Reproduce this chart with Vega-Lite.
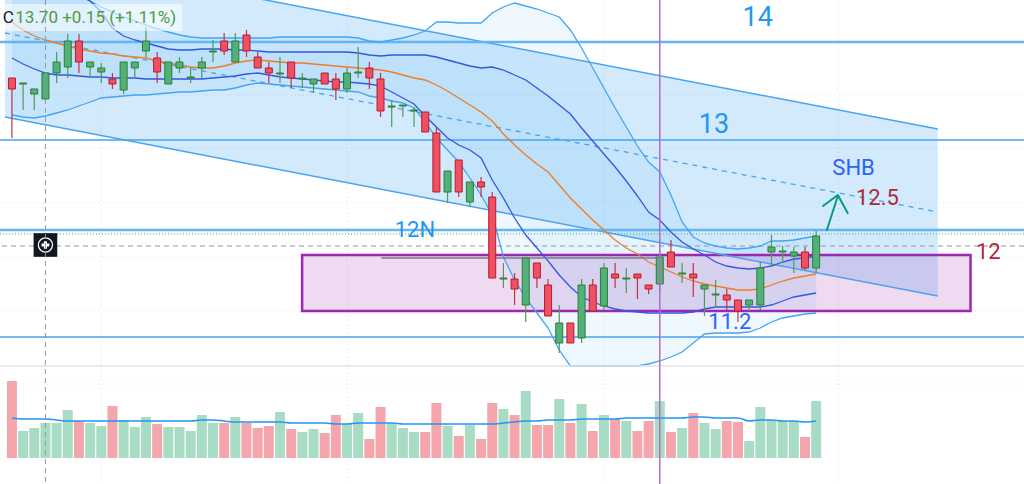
{
  "$schema": "https://vega.github.io/schema/vega-lite/v6.json",
  "width": 1024,
  "height": 484,
  "padding": 0,
  "autosize": {"type": "none"},
  "background": "#ffffff",
  "config": {"view": {"stroke": null}, "font": "Roboto"},
  "datasets": {
    "candles": [
      {"i":1,"o":13.65,"h":13.65,"l":13.05,"c":13.54,"v":7.7,"vm":4.0,"ma":14.21,"u1":14.93,"l1":13.85,"u2":14.88,"l2":13.28},
      {"i":2,"o":13.59,"h":13.60,"l":13.33,"c":13.60,"v":2.7,"vm":3.9,"ma":14.13,"u1":14.85,"l1":13.79,"u2":14.81,"l2":13.26},
      {"i":3,"o":13.49,"h":13.54,"l":13.33,"c":13.54,"v":3.0,"vm":3.9,"ma":14.07,"u1":14.77,"l1":13.74,"u2":14.73,"l2":13.25},
      {"i":4,"o":13.44,"h":13.70,"l":13.43,"c":13.70,"v":3.5,"vm":3.9,"ma":14.03,"u1":14.69,"l1":13.70,"u2":14.66,"l2":13.27},
      {"i":5,"o":13.70,"h":13.91,"l":13.60,"c":13.81,"v":3.5,"vm":3.8,"ma":14.00,"u1":14.61,"l1":13.68,"u2":14.59,"l2":13.30},
      {"i":6,"o":13.76,"h":14.09,"l":13.65,"c":14.02,"v":4.8,"vm":3.7,"ma":13.97,"u1":14.54,"l1":13.68,"u2":14.53,"l2":13.33},
      {"i":7,"o":14.02,"h":14.09,"l":13.70,"c":13.81,"v":3.7,"vm":3.7,"ma":13.94,"u1":14.48,"l1":13.67,"u2":14.47,"l2":13.37},
      {"i":8,"o":13.76,"h":13.81,"l":13.65,"c":13.81,"v":3.5,"vm":3.7,"ma":13.92,"u1":14.42,"l1":13.66,"u2":14.42,"l2":13.41},
      {"i":9,"o":13.71,"h":13.80,"l":13.60,"c":13.75,"v":3.2,"vm":3.7,"ma":13.90,"u1":14.31,"l1":13.66,"u2":14.36,"l2":13.45},
      {"i":10,"o":13.64,"h":13.70,"l":13.54,"c":13.59,"v":5.2,"vm":3.7,"ma":13.89,"u1":14.15,"l1":13.65,"u2":14.31,"l2":13.46},
      {"i":11,"o":13.53,"h":13.81,"l":13.49,"c":13.81,"v":3.8,"vm":3.7,"ma":13.87,"u1":14.07,"l1":13.65,"u2":14.26,"l2":13.47},
      {"i":12,"o":13.75,"h":13.81,"l":13.65,"c":13.81,"v":3.1,"vm":3.7,"ma":13.86,"u1":14.03,"l1":13.65,"u2":14.22,"l2":13.48},
      {"i":13,"o":13.92,"h":14.16,"l":13.86,"c":14.02,"v":4.1,"vm":3.7,"ma":13.85,"u1":14.00,"l1":13.64,"u2":14.18,"l2":13.48},
      {"i":14,"o":13.85,"h":13.91,"l":13.60,"c":13.71,"v":3.4,"vm":3.7,"ma":13.82,"u1":13.97,"l1":13.64,"u2":14.14,"l2":13.49},
      {"i":15,"o":13.59,"h":13.81,"l":13.59,"c":13.81,"v":3.1,"vm":3.7,"ma":13.80,"u1":13.94,"l1":13.64,"u2":14.11,"l2":13.50},
      {"i":16,"o":13.75,"h":13.86,"l":13.70,"c":13.81,"v":3.1,"vm":3.7,"ma":13.78,"u1":13.93,"l1":13.64,"u2":14.08,"l2":13.51},
      {"i":17,"o":13.65,"h":13.76,"l":13.60,"c":13.66,"v":2.7,"vm":3.7,"ma":13.76,"u1":13.93,"l1":13.64,"u2":14.06,"l2":13.51},
      {"i":18,"o":13.75,"h":13.86,"l":13.65,"c":13.81,"v":4.3,"vm":3.8,"ma":13.75,"u1":13.94,"l1":13.64,"u2":14.05,"l2":13.52},
      {"i":19,"o":13.91,"h":14.03,"l":13.81,"c":13.92,"v":3.5,"vm":3.8,"ma":13.75,"u1":13.94,"l1":13.65,"u2":14.05,"l2":13.53},
      {"i":20,"o":14.02,"h":14.10,"l":13.88,"c":13.92,"v":3.5,"vm":3.7,"ma":13.77,"u1":13.94,"l1":13.66,"u2":14.05,"l2":13.53},
      {"i":21,"o":13.81,"h":14.10,"l":13.81,"c":14.02,"v":4.1,"vm":3.6,"ma":13.80,"u1":13.93,"l1":13.67,"u2":14.05,"l2":13.55},
      {"i":22,"o":14.08,"h":14.13,"l":13.86,"c":13.92,"v":3.5,"vm":3.6,"ma":13.82,"u1":13.93,"l1":13.69,"u2":14.05,"l2":13.58},
      {"i":23,"o":13.86,"h":13.91,"l":13.75,"c":13.75,"v":3.0,"vm":3.6,"ma":13.83,"u1":13.92,"l1":13.70,"u2":14.05,"l2":13.60},
      {"i":24,"o":13.75,"h":13.81,"l":13.60,"c":13.70,"v":3.2,"vm":3.6,"ma":13.82,"u1":13.91,"l1":13.68,"u2":14.05,"l2":13.59},
      {"i":25,"o":13.69,"h":13.86,"l":13.60,"c":13.70,"v":4.6,"vm":3.6,"ma":13.81,"u1":13.91,"l1":13.66,"u2":14.06,"l2":13.58},
      {"i":26,"o":13.81,"h":13.81,"l":13.55,"c":13.65,"v":2.9,"vm":3.5,"ma":13.80,"u1":13.91,"l1":13.65,"u2":14.06,"l2":13.57},
      {"i":27,"o":13.64,"h":13.70,"l":13.55,"c":13.65,"v":2.6,"vm":3.5,"ma":13.80,"u1":13.91,"l1":13.64,"u2":14.06,"l2":13.56},
      {"i":28,"o":13.59,"h":13.64,"l":13.50,"c":13.64,"v":2.9,"vm":3.5,"ma":13.79,"u1":13.91,"l1":13.63,"u2":14.06,"l2":13.55},
      {"i":29,"o":13.70,"h":13.70,"l":13.59,"c":13.59,"v":2.5,"vm":3.5,"ma":13.78,"u1":13.91,"l1":13.62,"u2":14.06,"l2":13.54},
      {"i":30,"o":13.64,"h":13.70,"l":13.43,"c":13.54,"v":4.3,"vm":3.4,"ma":13.77,"u1":13.91,"l1":13.61,"u2":14.06,"l2":13.53},
      {"i":31,"o":13.54,"h":13.75,"l":13.50,"c":13.70,"v":3.4,"vm":3.4,"ma":13.76,"u1":13.91,"l1":13.61,"u2":14.06,"l2":13.52},
      {"i":32,"o":13.70,"h":13.96,"l":13.65,"c":13.71,"v":4.5,"vm":3.5,"ma":13.75,"u1":13.90,"l1":13.60,"u2":14.05,"l2":13.51},
      {"i":33,"o":13.75,"h":13.81,"l":13.54,"c":13.65,"v":1.9,"vm":3.5,"ma":13.74,"u1":13.88,"l1":13.59,"u2":14.02,"l2":13.47},
      {"i":34,"o":13.64,"h":13.70,"l":13.26,"c":13.32,"v":5.1,"vm":3.5,"ma":13.73,"u1":13.87,"l1":13.57,"u2":14.01,"l2":13.45},
      {"i":35,"o":13.36,"h":13.43,"l":13.16,"c":13.37,"v":3.5,"vm":3.5,"ma":13.71,"u1":13.88,"l1":13.51,"u2":14.03,"l2":13.42},
      {"i":36,"o":13.37,"h":13.38,"l":13.26,"c":13.38,"v":3.0,"vm":3.4,"ma":13.68,"u1":13.88,"l1":13.45,"u2":14.05,"l2":13.40},
      {"i":37,"o":13.32,"h":13.36,"l":13.16,"c":13.33,"v":2.6,"vm":3.4,"ma":13.65,"u1":13.88,"l1":13.39,"u2":14.08,"l2":13.35},
      {"i":38,"o":13.31,"h":13.31,"l":13.11,"c":13.11,"v":2.6,"vm":3.4,"ma":13.63,"u1":13.88,"l1":13.27,"u2":14.12,"l2":13.21},
      {"i":39,"o":13.10,"h":13.16,"l":12.51,"c":12.51,"v":5.5,"vm":3.4,"ma":13.58,"u1":13.86,"l1":13.16,"u2":14.21,"l2":13.05},
      {"i":40,"o":12.51,"h":12.72,"l":12.40,"c":12.72,"v":3.2,"vm":3.4,"ma":13.52,"u1":13.83,"l1":13.05,"u2":14.21,"l2":12.93},
      {"i":41,"o":12.83,"h":12.83,"l":12.46,"c":12.51,"v":2.2,"vm":3.4,"ma":13.45,"u1":13.80,"l1":12.98,"u2":14.20,"l2":12.81},
      {"i":42,"o":12.41,"h":12.61,"l":12.36,"c":12.61,"v":3.3,"vm":3.4,"ma":13.38,"u1":13.77,"l1":12.93,"u2":14.20,"l2":12.65},
      {"i":43,"o":12.61,"h":12.66,"l":12.46,"c":12.56,"v":1.9,"vm":3.4,"ma":13.31,"u1":13.75,"l1":12.85,"u2":14.20,"l2":12.48},
      {"i":44,"o":12.46,"h":12.51,"l":11.65,"c":11.65,"v":5.5,"vm":3.4,"ma":13.22,"u1":13.76,"l1":12.63,"u2":14.30,"l2":12.28},
      {"i":45,"o":11.64,"h":11.80,"l":11.55,"c":11.65,"v":4.9,"vm":3.5,"ma":13.09,"u1":13.73,"l1":12.45,"u2":14.36,"l2":11.86},
      {"i":46,"o":11.64,"h":11.70,"l":11.38,"c":11.54,"v":4.3,"vm":3.6,"ma":12.98,"u1":13.68,"l1":12.25,"u2":14.40,"l2":11.63},
      {"i":47,"o":11.38,"h":11.85,"l":11.21,"c":11.85,"v":6.7,"vm":3.7,"ma":12.88,"u1":13.63,"l1":12.08,"u2":14.37,"l2":11.45},
      {"i":48,"o":11.80,"h":11.80,"l":11.55,"c":11.65,"v":3.3,"vm":3.7,"ma":12.79,"u1":13.55,"l1":11.95,"u2":14.34,"l2":11.30},
      {"i":49,"o":11.58,"h":11.64,"l":11.27,"c":11.27,"v":3.3,"vm":3.8,"ma":12.71,"u1":13.47,"l1":11.82,"u2":14.30,"l2":11.15},
      {"i":50,"o":11.00,"h":11.38,"l":10.90,"c":11.20,"v":5.9,"vm":3.8,"ma":12.58,"u1":13.38,"l1":11.68,"u2":14.26,"l2":10.93},
      {"i":51,"o":11.20,"h":11.20,"l":11.00,"c":11.00,"v":3.5,"vm":3.8,"ma":12.45,"u1":13.29,"l1":11.56,"u2":14.13,"l2":10.77},
      {"i":52,"o":11.05,"h":11.64,"l":11.00,"c":11.58,"v":5.4,"vm":3.9,"ma":12.34,"u1":13.15,"l1":11.46,"u2":13.95,"l2":10.77},
      {"i":53,"o":11.58,"h":11.64,"l":11.32,"c":11.32,"v":2.7,"vm":3.9,"ma":12.23,"u1":13.02,"l1":11.41,"u2":13.75,"l2":10.77},
      {"i":54,"o":11.37,"h":11.80,"l":11.33,"c":11.75,"v":4.3,"vm":3.9,"ma":12.13,"u1":12.89,"l1":11.37,"u2":13.55,"l2":10.77},
      {"i":55,"o":11.69,"h":11.80,"l":11.55,"c":11.65,"v":3.9,"vm":3.9,"ma":12.03,"u1":12.76,"l1":11.34,"u2":13.35,"l2":10.77},
      {"i":56,"o":11.64,"h":11.75,"l":11.50,"c":11.65,"v":3.7,"vm":4.0,"ma":11.95,"u1":12.62,"l1":11.32,"u2":13.16,"l2":10.77},
      {"i":57,"o":11.69,"h":11.69,"l":11.44,"c":11.65,"v":2.7,"vm":4.0,"ma":11.89,"u1":12.47,"l1":11.31,"u2":12.97,"l2":10.77},
      {"i":58,"o":11.58,"h":11.58,"l":11.49,"c":11.54,"v":3.7,"vm":4.0,"ma":11.81,"u1":12.31,"l1":11.30,"u2":12.81,"l2":10.79},
      {"i":59,"o":11.59,"h":11.93,"l":11.50,"c":11.86,"v":5.7,"vm":4.0,"ma":11.76,"u1":12.23,"l1":11.30,"u2":12.71,"l2":10.82},
      {"i":60,"o":11.91,"h":12.03,"l":11.76,"c":11.76,"v":2.6,"vm":4.0,"ma":11.71,"u1":12.11,"l1":11.30,"u2":12.48,"l2":10.86},
      {"i":61,"o":11.69,"h":11.80,"l":11.60,"c":11.70,"v":3.0,"vm":4.0,"ma":11.66,"u1":12.01,"l1":11.30,"u2":12.21,"l2":10.91},
      {"i":62,"o":11.69,"h":11.80,"l":11.46,"c":11.65,"v":4.5,"vm":4.1,"ma":11.62,"u1":11.94,"l1":11.31,"u2":12.06,"l2":11.00},
      {"i":63,"o":11.54,"h":11.58,"l":11.27,"c":11.58,"v":3.5,"vm":4.1,"ma":11.59,"u1":11.88,"l1":11.34,"u2":12.00,"l2":11.09},
      {"i":64,"o":11.48,"h":11.63,"l":11.37,"c":11.49,"v":2.9,"vm":4.0,"ma":11.57,"u1":11.81,"l1":11.36,"u2":11.97,"l2":11.10},
      {"i":65,"o":11.48,"h":11.54,"l":11.33,"c":11.43,"v":3.7,"vm":4.0,"ma":11.55,"u1":11.77,"l1":11.36,"u2":11.95,"l2":11.10},
      {"i":66,"o":11.43,"h":11.43,"l":11.21,"c":11.32,"v":3.6,"vm":4.0,"ma":11.53,"u1":11.75,"l1":11.36,"u2":11.94,"l2":11.10},
      {"i":67,"o":11.38,"h":11.43,"l":11.32,"c":11.43,"v":1.7,"vm":3.7,"ma":11.53,"u1":11.74,"l1":11.36,"u2":11.95,"l2":11.11},
      {"i":68,"o":11.38,"h":11.81,"l":11.33,"c":11.75,"v":5.1,"vm":3.8,"ma":11.54,"u1":11.75,"l1":11.36,"u2":11.97,"l2":11.15},
      {"i":69,"o":11.91,"h":12.08,"l":11.76,"c":11.96,"v":3.8,"vm":3.8,"ma":11.58,"u1":11.77,"l1":11.38,"u2":12.02,"l2":11.21},
      {"i":70,"o":11.91,"h":11.97,"l":11.80,"c":11.92,"v":3.7,"vm":3.7,"ma":11.62,"u1":11.81,"l1":11.42,"u2":12.02,"l2":11.25},
      {"i":71,"o":11.87,"h":11.96,"l":11.70,"c":11.91,"v":3.7,"vm":3.7,"ma":11.65,"u1":11.84,"l1":11.46,"u2":12.03,"l2":11.27},
      {"i":72,"o":11.91,"h":11.96,"l":11.73,"c":11.75,"v":2.1,"vm":3.6,"ma":11.67,"u1":11.85,"l1":11.48,"u2":12.05,"l2":11.29},
      {"i":73,"o":11.75,"h":12.12,"l":11.70,"c":12.07,"v":5.7,"vm":3.7,"ma":11.69,"u1":11.87,"l1":11.50,"u2":12.07,"l2":11.30}
    ],
    "channel": [
      {"i":0.38,"up":14.93,"lo":13.26,"mid":14.10},
      {"i":83.89,"up":13.14,"lo":11.47,"mid":12.31}
    ],
    "gridX": [{"i":9},{"i":31},{"i":54},{"i":75}],
    "gridP": [{"p":13.48},{"p":12.95},{"p":12.40},{"p":11.86},{"p":11.32}],
    "levelsMajor": [{"p":14.01},{"p":12.13}],
    "levelsMinor": [{"p":13.03},{"p":11.06}],
    "signal": [{"p":12.09}],
    "crossP": [{"p":11.97}],
    "crossX": [{"i":4}],
    "crossIcon": [{"i":4,"p":11.98}],
    "pane": [{"p":10.77}],
    "zone": [{"i":26.98,"i2":86.82,"top":11.88,"bottom":11.32}],
    "base": [{"i":34.07,"i2":59,"p":11.85}],
    "event": [{"i":59}],
    "notes": [
      {"i":67.76,"p":14.25,"t":"14","g":"lvl"},
      {"i":63.85,"p":13.18,"t":"13","g":"lvl"},
      {"i":37.08,"p":12.13,"t":"12N","g":"lbl"},
      {"i":76.35,"p":12.75,"t":"SHB","g":"sym"},
      {"i":65.27,"p":11.21,"t":"11.2","g":"sym"},
      {"i":78.48,"p":12.45,"t":"12.5","g":"tgt"},
      {"i":88.41,"p":11.91,"t":"12","g":"tgt"}
    ],
    "arrow": [
      {"seg":"shaft","i":73.96,"p":12.13},
      {"seg":"shaft","i":74.94,"p":12.47},
      {"seg":"head","i":73.61,"p":12.37},
      {"seg":"head","i":74.94,"p":12.48},
      {"seg":"head","i":75.82,"p":12.30}
    ],
    "header": [{"i":0.38,"i2":16.25,"top":14.39,"bottom":14.12}],
    "headerText": [{"i":1.18,"p":14.25,"t":"C","g":"k"},{"i":1.3,"p":14.25,"t":"13.70 +0.15 (+1.11%)","g":"q"}],
    "volGrid": [{"v":7.4}]
  },
  "layer": [
    {
      "layer": [
        {
          "data": {"name": "gridX"},
          "mark": {"type": "rule", "stroke": "#dfe3ea", "strokeDash": [1, 3], "strokeWidth": 1},
          "encoding": {"x": {"field": "i", "type": "quantitative", "scale": {"domain": [0.38, 91.16], "nice": false, "zero": false}, "axis": null}}
        },
        {
          "data": {"name": "gridP"},
          "mark": {"type": "rule", "stroke": "#dfe3ea", "strokeDash": [1, 3], "strokeWidth": 1},
          "encoding": {"y": {"field": "p", "type": "quantitative", "scale": {"domain": [9.59, 14.43], "nice": false, "zero": false}, "axis": null}}
        },
        {
          "data": {"name": "channel"},
          "mark": {"type": "area", "fill": "#2196f3", "opacity": 0.2, "clip": true},
          "encoding": {
            "x": {"field": "i", "type": "quantitative", "scale": {"domain": [0.38, 91.16], "nice": false, "zero": false}, "axis": null},
            "y": {"field": "up", "type": "quantitative", "scale": {"domain": [9.59, 14.43], "nice": false, "zero": false}, "axis": null},
            "y2": {"field": "lo"}
          }
        },
        {
          "data": {"name": "candles"},
          "mark": {"type": "area", "fill": "#2196f3", "opacity": 0.07, "clip": true},
          "encoding": {
            "x": {"field": "i", "type": "quantitative", "scale": {"domain": [0.38, 91.16], "nice": false, "zero": false}, "axis": null},
            "y": {"field": "u2", "type": "quantitative", "scale": {"domain": [9.59, 14.43], "nice": false, "zero": false}, "axis": null},
            "y2": {"field": "l2"}
          }
        },
        {
          "data": {"name": "candles"},
          "mark": {"type": "area", "fill": "#2196f3", "opacity": 0.05, "clip": true},
          "encoding": {
            "x": {"field": "i", "type": "quantitative", "scale": {"domain": [0.38, 91.16], "nice": false, "zero": false}, "axis": null},
            "y": {"field": "u1", "type": "quantitative", "scale": {"domain": [9.59, 14.43], "nice": false, "zero": false}, "axis": null},
            "y2": {"field": "l1"}
          }
        },
        {
          "data": {"name": "zone"},
          "mark": {"type": "rect", "fill": "#9c27b0", "fillOpacity": 0.17, "stroke": "#9c27b0", "strokeWidth": 2.5},
          "encoding": {
            "x": {"field": "i", "type": "quantitative", "scale": {"domain": [0.38, 91.16], "nice": false, "zero": false}, "axis": null},
            "x2": {"field": "i2"},
            "y": {"field": "top", "type": "quantitative", "scale": {"domain": [9.59, 14.43], "nice": false, "zero": false}, "axis": null},
            "y2": {"field": "bottom"}
          }
        },
        {
          "data": {"name": "channel"},
          "mark": {"type": "line", "stroke": "#4aa3f0", "strokeWidth": 1.5, "clip": true},
          "encoding": {
            "x": {"field": "i", "type": "quantitative", "scale": {"domain": [0.38, 91.16], "nice": false, "zero": false}, "axis": null},
            "y": {"field": "up", "type": "quantitative", "scale": {"domain": [9.59, 14.43], "nice": false, "zero": false}, "axis": null}
          }
        },
        {
          "data": {"name": "channel"},
          "mark": {"type": "line", "stroke": "#4aa3f0", "strokeWidth": 1.5, "clip": true},
          "encoding": {
            "x": {"field": "i", "type": "quantitative", "scale": {"domain": [0.38, 91.16], "nice": false, "zero": false}, "axis": null},
            "y": {"field": "lo", "type": "quantitative", "scale": {"domain": [9.59, 14.43], "nice": false, "zero": false}, "axis": null}
          }
        },
        {
          "data": {"name": "channel"},
          "mark": {"type": "line", "stroke": "#4aa3f0", "strokeWidth": 1.3, "strokeDash": [5, 5], "clip": true},
          "encoding": {
            "x": {"field": "i", "type": "quantitative", "scale": {"domain": [0.38, 91.16], "nice": false, "zero": false}, "axis": null},
            "y": {"field": "mid", "type": "quantitative", "scale": {"domain": [9.59, 14.43], "nice": false, "zero": false}, "axis": null}
          }
        },
        {
          "data": {"name": "levelsMajor"},
          "mark": {"type": "rule", "stroke": "#64b5f6", "strokeWidth": 2.5},
          "encoding": {"y": {"field": "p", "type": "quantitative", "scale": {"domain": [9.59, 14.43], "nice": false, "zero": false}, "axis": null}}
        },
        {
          "data": {"name": "levelsMinor"},
          "mark": {"type": "rule", "stroke": "#42a5f5", "strokeWidth": 1.5},
          "encoding": {"y": {"field": "p", "type": "quantitative", "scale": {"domain": [9.59, 14.43], "nice": false, "zero": false}, "axis": null}}
        },
        {
          "data": {"name": "signal"},
          "mark": {"type": "rule", "stroke": "#4caf50", "strokeWidth": 1, "strokeDash": [1, 2]},
          "encoding": {"y": {"field": "p", "type": "quantitative", "scale": {"domain": [9.59, 14.43], "nice": false, "zero": false}, "axis": null}}
        },
        {
          "data": {"name": "crossP"},
          "mark": {"type": "rule", "stroke": "#9598a1", "strokeWidth": 1, "strokeDash": [5, 4]},
          "encoding": {"y": {"field": "p", "type": "quantitative", "scale": {"domain": [9.59, 14.43], "nice": false, "zero": false}, "axis": null}}
        },
        {
          "data": {"name": "candles"},
          "mark": {"type": "line", "stroke": "#42a5f5", "strokeWidth": 1.3, "clip": true},
          "encoding": {
            "x": {"field": "i", "type": "quantitative", "scale": {"domain": [0.38, 91.16], "nice": false, "zero": false}, "axis": null},
            "y": {"field": "u2", "type": "quantitative", "scale": {"domain": [9.59, 14.43], "nice": false, "zero": false}, "axis": null}
          }
        },
        {
          "data": {"name": "candles"},
          "mark": {"type": "line", "stroke": "#42a5f5", "strokeWidth": 1.3, "clip": true},
          "encoding": {
            "x": {"field": "i", "type": "quantitative", "scale": {"domain": [0.38, 91.16], "nice": false, "zero": false}, "axis": null},
            "y": {"field": "l2", "type": "quantitative", "scale": {"domain": [9.59, 14.43], "nice": false, "zero": false}, "axis": null}
          }
        },
        {
          "data": {"name": "candles"},
          "mark": {"type": "line", "stroke": "#3158e0", "strokeWidth": 1.3, "clip": true},
          "encoding": {
            "x": {"field": "i", "type": "quantitative", "scale": {"domain": [0.38, 91.16], "nice": false, "zero": false}, "axis": null},
            "y": {"field": "u1", "type": "quantitative", "scale": {"domain": [9.59, 14.43], "nice": false, "zero": false}, "axis": null}
          }
        },
        {
          "data": {"name": "candles"},
          "mark": {"type": "line", "stroke": "#3158e0", "strokeWidth": 1.3, "clip": true},
          "encoding": {
            "x": {"field": "i", "type": "quantitative", "scale": {"domain": [0.38, 91.16], "nice": false, "zero": false}, "axis": null},
            "y": {"field": "l1", "type": "quantitative", "scale": {"domain": [9.59, 14.43], "nice": false, "zero": false}, "axis": null}
          }
        },
        {
          "data": {"name": "candles"},
          "mark": {"type": "line", "stroke": "#ef7d22", "strokeWidth": 1.3, "clip": true},
          "encoding": {
            "x": {"field": "i", "type": "quantitative", "scale": {"domain": [0.38, 91.16], "nice": false, "zero": false}, "axis": null},
            "y": {"field": "ma", "type": "quantitative", "scale": {"domain": [9.59, 14.43], "nice": false, "zero": false}, "axis": null}
          }
        },
        {
          "data": {"name": "base"},
          "mark": {"type": "rule", "stroke": "#787b86", "strokeWidth": 1.5},
          "encoding": {
            "x": {"field": "i", "type": "quantitative", "scale": {"domain": [0.38, 91.16], "nice": false, "zero": false}, "axis": null},
            "x2": {"field": "i2"},
            "y": {"field": "p", "type": "quantitative", "scale": {"domain": [9.59, 14.43], "nice": false, "zero": false}, "axis": null}
          }
        },
        {
          "data": {"name": "pane"},
          "mark": {"type": "rule", "stroke": "#e0e3eb", "strokeWidth": 1.5},
          "encoding": {"y": {"field": "p", "type": "quantitative", "scale": {"domain": [9.59, 14.43], "nice": false, "zero": false}, "axis": null}}
        },
        {
          "data": {"name": "candles"},
          "mark": {"type": "rule", "strokeWidth": 1.2},
          "encoding": {
            "x": {"field": "i", "type": "quantitative", "scale": {"domain": [0.38, 91.16], "nice": false, "zero": false}, "axis": null},
            "y": {"field": "l", "type": "quantitative", "scale": {"domain": [9.59, 14.43], "nice": false, "zero": false}, "axis": null},
            "y2": {"field": "h"},
            "stroke": {"condition": {"test": "datum.c >= datum.o", "value": "#4f9a55"}, "value": "#c8303f"}
          }
        },
        {
          "data": {"name": "candles"},
          "mark": {"type": "bar", "size": 7, "strokeWidth": 1},
          "encoding": {
            "x": {"field": "i", "type": "quantitative", "scale": {"domain": [0.38, 91.16], "nice": false, "zero": false}, "axis": null},
            "y": {"field": "o", "type": "quantitative", "scale": {"domain": [9.59, 14.43], "nice": false, "zero": false}, "axis": null},
            "y2": {"field": "c"},
            "fill": {"condition": {"test": "datum.c >= datum.o", "value": "#52b07a"}, "value": "#ef5063"},
            "stroke": {"condition": {"test": "datum.c >= datum.o", "value": "#2e7d32"}, "value": "#b71c2c"}
          }
        },
        {
          "data": {"name": "notes"},
          "transform": [{"filter": "datum.g === 'lvl'"}],
          "mark": {"type": "text", "fontSize": 27, "color": "#2196f3", "align": "center", "baseline": "middle"},
          "encoding": {
            "x": {"field": "i", "type": "quantitative", "scale": {"domain": [0.38, 91.16], "nice": false, "zero": false}, "axis": null},
            "y": {"field": "p", "type": "quantitative", "scale": {"domain": [9.59, 14.43], "nice": false, "zero": false}, "axis": null},
            "text": {"field": "t"}
          }
        },
        {
          "data": {"name": "notes"},
          "transform": [{"filter": "datum.g === 'lbl'"}],
          "mark": {"type": "text", "fontSize": 22, "color": "#2196f3", "align": "center", "baseline": "middle"},
          "encoding": {
            "x": {"field": "i", "type": "quantitative", "scale": {"domain": [0.38, 91.16], "nice": false, "zero": false}, "axis": null},
            "y": {"field": "p", "type": "quantitative", "scale": {"domain": [9.59, 14.43], "nice": false, "zero": false}, "axis": null},
            "text": {"field": "t"}
          }
        },
        {
          "data": {"name": "notes"},
          "transform": [{"filter": "datum.g === 'sym'"}],
          "mark": {"type": "text", "fontSize": 22, "color": "#2962ff", "align": "center", "baseline": "middle"},
          "encoding": {
            "x": {"field": "i", "type": "quantitative", "scale": {"domain": [0.38, 91.16], "nice": false, "zero": false}, "axis": null},
            "y": {"field": "p", "type": "quantitative", "scale": {"domain": [9.59, 14.43], "nice": false, "zero": false}, "axis": null},
            "text": {"field": "t"}
          }
        },
        {
          "data": {"name": "notes"},
          "transform": [{"filter": "datum.g === 'tgt'"}],
          "mark": {"type": "text", "fontSize": 22, "color": "#b2283a", "align": "center", "baseline": "middle"},
          "encoding": {
            "x": {"field": "i", "type": "quantitative", "scale": {"domain": [0.38, 91.16], "nice": false, "zero": false}, "axis": null},
            "y": {"field": "p", "type": "quantitative", "scale": {"domain": [9.59, 14.43], "nice": false, "zero": false}, "axis": null},
            "text": {"field": "t"}
          }
        },
        {
          "data": {"name": "arrow"},
          "mark": {"type": "line", "stroke": "#089981", "strokeWidth": 2, "strokeCap": "round", "strokeJoin": "round"},
          "encoding": {
            "x": {"field": "i", "type": "quantitative", "scale": {"domain": [0.38, 91.16], "nice": false, "zero": false}, "axis": null},
            "y": {"field": "p", "type": "quantitative", "scale": {"domain": [9.59, 14.43], "nice": false, "zero": false}, "axis": null},
            "detail": {"field": "seg"}
          }
        },
        {
          "data": {"name": "header"},
          "mark": {"type": "rect", "fill": "#ffffff", "opacity": 0.55},
          "encoding": {
            "x": {"field": "i", "type": "quantitative", "scale": {"domain": [0.38, 91.16], "nice": false, "zero": false}, "axis": null},
            "x2": {"field": "i2"},
            "y": {"field": "top", "type": "quantitative", "scale": {"domain": [9.59, 14.43], "nice": false, "zero": false}, "axis": null},
            "y2": {"field": "bottom"}
          }
        },
        {
          "data": {"name": "headerText"},
          "transform": [{"filter": "datum.g === 'k'"}],
          "mark": {"type": "text", "fontSize": 17, "color": "#131722", "align": "right", "baseline": "middle"},
          "encoding": {
            "x": {"field": "i", "type": "quantitative", "scale": {"domain": [0.38, 91.16], "nice": false, "zero": false}, "axis": null},
            "y": {"field": "p", "type": "quantitative", "scale": {"domain": [9.59, 14.43], "nice": false, "zero": false}, "axis": null},
            "text": {"field": "t"}
          }
        },
        {
          "data": {"name": "headerText"},
          "transform": [{"filter": "datum.g === 'q'"}],
          "mark": {"type": "text", "fontSize": 17, "color": "#4e9a3e", "align": "left", "baseline": "middle"},
          "encoding": {
            "x": {"field": "i", "type": "quantitative", "scale": {"domain": [0.38, 91.16], "nice": false, "zero": false}, "axis": null},
            "y": {"field": "p", "type": "quantitative", "scale": {"domain": [9.59, 14.43], "nice": false, "zero": false}, "axis": null},
            "text": {"field": "t"}
          }
        },
        {
          "data": {"name": "crossIcon"},
          "mark": {"type": "point", "shape": "square", "filled": true, "size": 560, "color": "#131722", "opacity": 1},
          "encoding": {
            "x": {"field": "i", "type": "quantitative", "scale": {"domain": [0.38, 91.16], "nice": false, "zero": false}, "axis": null},
            "y": {"field": "p", "type": "quantitative", "scale": {"domain": [9.59, 14.43], "nice": false, "zero": false}, "axis": null}
          }
        },
        {
          "data": {"name": "crossIcon"},
          "mark": {"type": "point", "shape": "circle", "filled": false, "size": 200, "stroke": "#ffffff", "strokeWidth": 1.2, "opacity": 1},
          "encoding": {
            "x": {"field": "i", "type": "quantitative", "scale": {"domain": [0.38, 91.16], "nice": false, "zero": false}, "axis": null},
            "y": {"field": "p", "type": "quantitative", "scale": {"domain": [9.59, 14.43], "nice": false, "zero": false}, "axis": null}
          }
        },
        {
          "data": {"name": "crossIcon"},
          "mark": {"type": "point", "shape": "cross", "filled": true, "size": 60, "color": "#ffffff", "opacity": 1},
          "encoding": {
            "x": {"field": "i", "type": "quantitative", "scale": {"domain": [0.38, 91.16], "nice": false, "zero": false}, "axis": null},
            "y": {"field": "p", "type": "quantitative", "scale": {"domain": [9.59, 14.43], "nice": false, "zero": false}, "axis": null}
          }
        }
      ]
    },
    {
      "layer": [
        {
          "data": {"name": "volGrid"},
          "mark": {"type": "rule", "stroke": "#dfe3ea", "strokeDash": [1, 3], "strokeWidth": 1},
          "encoding": {"y": {"field": "v", "type": "quantitative", "scale": {"domain": [-2.6, 45.8], "nice": false, "zero": false}, "axis": null}}
        },
        {
          "data": {"name": "candles"},
          "mark": {"type": "bar", "size": 10},
          "encoding": {
            "x": {"field": "i", "type": "quantitative", "scale": {"domain": [0.38, 91.16], "nice": false, "zero": false}, "axis": null},
            "y": {"field": "v", "type": "quantitative", "scale": {"domain": [-2.6, 45.8], "nice": false, "zero": false}, "axis": null},
            "y2": {"datum": 0},
            "fill": {"condition": {"test": "datum.c >= datum.o", "value": "#a9dcc4"}, "value": "#f5a6ac"}
          }
        },
        {
          "data": {"name": "candles"},
          "mark": {"type": "line", "stroke": "#2196f3", "strokeWidth": 1.5, "interpolate": "monotone"},
          "encoding": {
            "x": {"field": "i", "type": "quantitative", "scale": {"domain": [0.38, 91.16], "nice": false, "zero": false}, "axis": null},
            "y": {"field": "vm", "type": "quantitative", "scale": {"domain": [-2.6, 45.8], "nice": false, "zero": false}, "axis": null}
          }
        },
        {
          "data": {"name": "crossX"},
          "mark": {"type": "rule", "stroke": "#9598a1", "strokeWidth": 1, "strokeDash": [5, 4]},
          "encoding": {"x": {"field": "i", "type": "quantitative", "scale": {"domain": [0.38, 91.16], "nice": false, "zero": false}, "axis": null}}
        },
        {
          "data": {"name": "event"},
          "mark": {"type": "rule", "stroke": "#b868c8", "strokeWidth": 1.5},
          "encoding": {"x": {"field": "i", "type": "quantitative", "scale": {"domain": [0.38, 91.16], "nice": false, "zero": false}, "axis": null}}
        }
      ]
    }
  ],
  "resolve": {"scale": {"y": "independent"}}
}
